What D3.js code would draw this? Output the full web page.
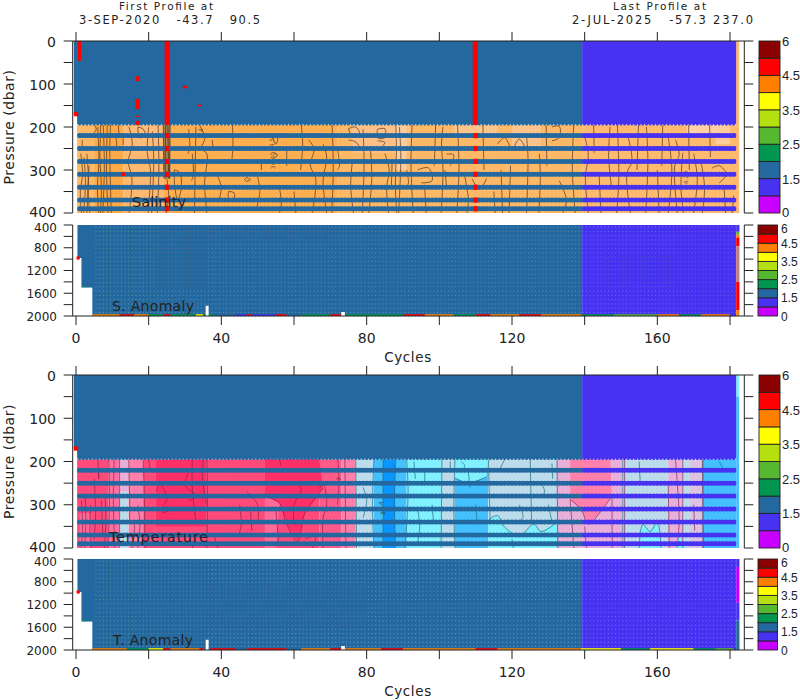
<!DOCTYPE html>
<html><head><meta charset="utf-8">
<script src="https://cdn.jsdelivr.net/npm/d3@7"></script>
<style>html,body{margin:0;padding:0;background:#fff;overflow:hidden}svg{display:block}text{font-family:"DejaVu Sans",sans-serif;fill:#222;white-space:pre}</style>
</head><body><svg id="c" width="800" height="700"></svg>
<script>
// ---------- data (cycle / dbar) ----------
const flagColors = ["#c800ff","#4632f0","#2468a0","#009650","#55b830","#b4e010","#ffff00","#ff8000","#ff0000","#8b0000"];
const flagTicks = ["0","1.5","2.5","3.5","4.5","6"];
const flagTickSteps = [0,2,4,6,8,10];
const cycleTicks = [0,20,40,60,80,100,120,140,160,180];
const cycleLabels = [0,40,80,120,160];
const stripeLevels = [220,250,280,310,340,370,390];
const gridLevels = [400,475,550,625,700,775,850,925,1000,1075,1150,1225,1300,1375,1450,1525,1600,1675,1750,1825,1900,1975];
const flagBreakCycle = 139.3, lastCycle = 181.7, edgeCycle = 182.6;
const shallowStep = [[-0.6,0,170],[0.3,170,194]];
const deepSteps = [[0.4,400,980],[1.5,400,1500],[4.5,400,2000]];
const whiteGaps = [[35.7,36.5,1820,2000],[73,74,1930,2000]];

// [cycle0, cycle1, p0, p1, colour]
const salZones = [
 [0.3,5,195,400,"#ffb866"],[5,13,195,400,"#ffaa46"],[13,24,195,400,"#ffb870"],[13,24,195,260,"#ffbc78"],
 [24,72,195,400,"#ffaf50"],[72,139.3,195,400,"#ffb865"],[139.3,182.6,195,400,"#ffba6e"],
 [24,26,195,320,"#a8804a"],[76,92,195,260,"#ffc088"],[88,91,195,300,"#ffcc9c"],[104,116,195,225,"#ffc48a"],[120,128,195,250,"#ffc48a"],
 [168,178,195,215,"#ffd0a4"],[176,180,195,240,"#ffcc9c"],[181.7,182.6,0,195,"#ffba6e"]
];
const tempZones = [
 [0.3,9,195,400,"#ff4a7a"],[1,4,320,400,"#ff6a98"],[9,12,195,400,"#ff70a0"],[12,14.5,195,270,"#e8b0d8"],[12,14.5,270,400,"#bcdcec"],
 [14.5,18.5,195,400,"#ff80aa"],[18.5,22,195,400,"#ff4a7a"],[22,36,195,400,"#ff3068"],[22,36,350,400,"#ff4a7a"],
 [36,52,195,400,"#ff4a7a"],[52,67,195,400,"#ff4a7a"],
 [67,73,195,400,"#ff5a88"],[73,77,195,400,"#ff80aa"],[77,82,195,400,"#bcdcec"],[82,84.5,195,400,"#44c0ff"],[84.5,88,195,400,"#0a96ff"],
 [88,91,195,400,"#44c0ff"],[91,100.7,195,400,"#80f0ff"],[100.7,104.3,195,400,"#bcdcec"],[104.3,113.5,195,400,"#44c0ff"],
 [113.5,132.4,195,400,"#bcdcec"],[132.4,136,195,400,"#e8b0d8"],
 [136,150.5,195,400,"#e8b0d8"],[150.5,163,195,400,"#bcdcec"],
 [163,167,195,400,"#e8b0d8"],[167,169,195,400,"#bcdcec"],[169,172.6,195,400,"#dcc4e0"],[172.6,181.7,195,400,"#44c0ff"],
 [181.7,182.6,50,400,"#44c0ff"],[181.7,182.6,0,50,"#80f0ff"]
];
// filled contour areas: colour, then cycle, dbar pairs
const tempAreas = [
 ["#ff3068",52,195,67,195,68,262,63,320,61,385,58,345,56,296,52,280],
 ["#ff6a98",52,280,56,296,55,400,52,400],
 ["#80f0ff",104.3,195,113.5,195,113,235,108,250,104.3,238],
 ["#80f0ff",113.5,400,113.5,335,116,325,118,352,122,372,126,345,128,362,132.4,340,132.4,400],
 ["#ff80aa",136,195,147,195,147.5,280,144,320,141,345,139,310,136,288],
 ["#80f0ff",155,400,156,345,158,362,160,340,161,400],
 ["#80f0ff",165,400,166,370,168,400]
];
// contours: flat lists cycle, dbar, cycle, dbar ...
const salContours = [
 [1.7,230,1.7,246],[1.3,262,1.8,310,1.2,350,1.5,400],[2.2,270,2.6,330,2.1,400],[3,262,3.4,320,3,400],[3.6,290,3.3,350,3.8,400],
 [5,195,5.6,205,4.8,215],[6,200,6.3,280,5.9,340,6.2,400],[6.8,195,6.6,270,7,350,6.7,400],[7.5,195,7.8,290,7.4,400],[8.6,195,8.4,300,8.8,400],[9.5,195,9.3,250,9.7,400],
 [10.9,222,11.2,240,10.8,254],[11.6,195,11.9,220],[13,226,13,242],[14.6,200,15.5,240,14.4,280,15.4,320,14.6,400],[17,200,18.5,205,19,220,17.5,225,17,200],[20,200,19.6,260,20.5,300,19.8,400],[21,210,21.4,280,20.8,400],[22.6,195,22.8,300,22.4,400],
 [24,195,24.2,300],[24.7,195,24.5,320],[25.3,195,25.5,320],[25.9,195,25.7,320],[25,320,25.5,360,24.8,400],
 [27,300,28.5,305,29,340,28,370,27.2,340,27,300],[31,205,31.3,250,30.8,262],[32,262,32.3,310,31.8,325],[33,200,32.6,400],[34,196,35.5,225,34.5,250,36,262,35.4,330,36,400],[37.5,230,37.7,246],
 [39,315,40,340,39.2,375],[43,184,43.2,240,42.9,278],[42,350,43.5,353,43.5,365,42,365,42,350],[47,318,48,322,47,326,46.4,322,47,318],[50,316,50.6,350,49.8,385],[51,285,51,300],
 [54,222,55.5,226,55,240,54,222],[54.5,260,55.5,265,54.6,272],[56,340,56.5,380,56,400],[58,250,58,290],[60,350,60.5,400],[62,195,62.4,240,61.8,300],
 [64,230,65.5,250,64.5,290,66,320,65,400],[68,240,69,270,68,325,69,400],[70.5,195,70.8,300,70.4,400],[72,254,72.5,290,72,300],[75,204,77,200,78,215,76,222,75,204],[75,230,77,235,78,248,75.5,245],
 [76,285,75.6,340,76.4,400],[79,205,79.3,290,78.8,400],[81,246,81.4,320,80.6,400],[83,205,85,204,85,225,83,225,83,205],[83,232,85,236,84,248],[85,262,86.2,300,85.5,340,86,400],[87,280,86.8,340],
 [88,190,88.2,250,87.9,340,88.3,400],[89,200,89.4,270,88.8,400],[91,300,91.5,330,91,340],[92.5,195,92.2,290,92.8,400],[94,300,97,295,98,325,95,330],[96,345,96.4,400],[99,195,98.6,290],
 [101,200,100.6,240,101,300,100.5,400],[102,263,104,265,103,290],[101.5,300,102,340],[105,195,105.4,300,104.8,400],[107,315,108,370,107.6,400],[109,320,111,345,113,320],[112,195,112.3,300],[115,350,115.4,400],
 [116,240,118,225,120,250,122,228,124,255],[117,300,117.4,400],[119.6,290,119.2,400],[124,222,124.4,270,124,400],[127.5,262,127.8,315,127.4,400],[129.4,195,129.6,290],[131,200,133,198,133,225,131,232],[133,325,135,370,134,400],[137,195,136.6,300,137.4,400],
 [140,222,141,265,140.2,316,141,400],[142.5,195,142.6,260],[144,315,144.5,400],[147,200,146.6,270,147.4,340],[149,195,149.4,320,148.8,400],[152,224,153,280,151.6,308,152.6,400],[154.8,195,154.4,300],[157,200,157.4,280,156.8,400],[160,300,160.5,400],
 [161.5,195,161.2,290],[163,224,164,300,163,400],[165,230,166,265,164.8,290,165.5,400],[167,260,166.5,340,167.2,400],[168.6,195,168.8,300],[170,262,171,320,170,400],[172,280,173,340,172.4,400],[174.4,195,174.6,270],
 [175,296,177,290,179,310,177,330],[178.4,345,178.8,400],[181,360,180.6,400]
];
const tempContoursWarm = [
 [1.5,290,1.8,360,1.4,400],[2.5,280,2.7,340,2.4,400],[4,300,3.8,360,4.2,400],[5,240,5.4,320,5,380],[6,215,6.3,240,6,195],[7,290,7.4,370],[8,275,8.2,340,7.8,400],
 [9,195,9.2,300,8.8,400],[10.5,195,10.3,300,10.7,400],[12,195,12,400],[14.5,195,14.8,300,15,340,16,345,15.4,400],[18.5,195,18.8,280,19,400],[20,195,20.4,215,21,225],[17,300,17.6,345,17,400],
 [22,270,23,255,24,262,25,290,24,300],[24,305,26,310,24,318,24,305],[31,225,30,255,33,280,31,290],[32,195,32,260,33,340],[36,195,36.2,260,36,400],[33,370,32,400],[35,195,34.8,240,36,300],
 [55,310,55.8,390],[60,250,62,262,60,300,60,345],[63,380,66,372,65,400],[67,262,68,250,69,300,68,330,68,400],[56,195,56.4,210],[72,195,72.4,240,72,300],[45,300,45.5,345,44.8,370],[48,310,48.4,360],[47,270,50,300,50,340],[38,370,39,400],
 [74,195,74.3,400],[132.4,195,132.6,400],[136,288,137,400],[147.5,280,147.6,400],[165,195,165.5,250,166,340,165.4,400],[163,250,163.3,400],[167,195,167,400],[170,300,170.3,360],[172.4,195,172.6,400],[140,350,140.5,400],[151,195,151,400],
 [52,280,56,296,58,345,61,385,63,320,68,262],[136,288,139,310,141,345,144,320,147.5,280]
];
const tempContoursCool = [
 [77,195,77.2,400],[82,195,81.6,300,82,400],[84.5,195,84.5,400],[88,195,87.6,300,88,400],[84,300,85,310,84,320],[87,205,88,215,87,225],[91,195,91.4,270,90.6,400],
 [100.7,195,100.5,400],[104.3,195,104,300,104.3,400],[103,200,103,215],[106,200,107,210,106,225],[113.5,195,113.8,290,114,340],[118,195,116.5,220],[113.5,335,116,325,118,352,122,372,126,345,128,362,132.4,340],
 [122,300,123,330,121,340],[125,195,125.4,340],[128,250,129,270,128,280],[131,205,131.2,240],[150.5,195,150.5,400],[155,200,155.3,250],[155,400,156,345,158,362,160,340,161,400],
 [130,300,131,340],[172.6,195,172.6,400],[177,200,178,220,177,225],[94,310,94.6,350,94,390],[96,220,96,250],[120,380,120.4,400],[108,225,108.4,260],[104.3,238,108,250,113,235],[79,260,80,290,79,330],[93,200,93.4,240],[98,300,98.4,340],[110,300,110.5,345]
];
const salLabels = [[54.5,236,"34.50"],[54.8,278,"34.40"],[168.5,322,"34.20"],[35,214,"3.4"]];
const tempLabels = [[5,222,"9"],[73,240,"7"],[84.5,296,"4"],[85,320,"2"]];

const salFlags = [[0.5,1.4,0,46],[-0.6,0.6,165,175],[16.4,17.6,82,93],[16.4,17.6,135,158],[16.4,17.6,174,177],[16.4,17.6,188,195],[24.4,25.8,0,195],[29.4,30.6,104,110],[33.4,34.6,148,152],[109.2,110.6,0,195]];
const salSpots = [[13,310],[17,190]];
const flaggedCycles = [25,110];
const tempFlags = [[-0.6,0.6,165,175]];

const strip1 = [[4.5,12,7],[12,16,8],[16,20,7],[20,24,3],[24,26,8],[26,33,3],[33,35,6],[35,38,3],[38,44,2],[44,47,1],[47,48.5,8],[48.5,55,1],[55,58,8],[58,62,2],[62,70,3],[70,73,8],[74,90,3],[90,96,8],[96,104,7],[104,110,3],[110,114,8],[114,122,7],[122,128,8],[128,139,7],[139,148,3],[148,160,4],[160,166,7],[166,172,3],[172,180,7]];
const strip2 = [[4.5,14,7],[14,20,3],[20,24,6],[24,26,8],[26,34,7],[34,35,8],[37,44,8],[44,47,2],[47,52,8],[52,58,8],[58,62,2],[62,70,7],[70,74,8],[74,84,7],[84,90,8],[90,110,7],[110,116,8],[116,139,7],[139,150,6],[150,158,3],[158,170,6],[170,176,3],[176,181,4]];
const tempEdge = [[400,540,1],[540,1170,0],[1170,1480,1],[1480,2000,2]];
const salEdgeClean = [[400,520,1],[520,570,4],[570,620,7],[620,770,8],[770,1400,"#c08080"],[1400,1900,8],[1900,2000,7]];
const salDotZones = [[5,22,400,900,"#7fd08a"],[22,36,400,1500,"#b87878"],[5,22,900,2000,"#a0d090"],[22,36,1500,2000,"#a8b8c8"],[36,70,400,700,"#b08088"],[36,139,700,2000,"#8fb8d8"],[70,139,400,700,"#90a8c8"],[139,145,400,2000,"#9aa0ff"],[145,165,400,900,"#9aa0ff"],[145,165,900,1400,"#70b888"],[145,165,1400,2000,"#9aa0ff"],[165,182,400,2000,"#a080e0"]];
const tempDotZones = [[5,20,400,1000,"#70d088"],[5,20,1000,2000,"#a0c8a0"],[20,36,400,2000,"#a0b8b8"],[36,139,400,800,"#b0c8e8"],[36,80,800,1600,"#b09aa8"],[80,139,800,1600,"#b0c8e8"],[36,139,1600,2000,"#b0c8e8"],[139,182,400,2000,"#a8acff"]];

// ---------- drawing ----------
const svg = d3.select("#c");
const x = d3.scaleLinear().domain([0,180]).range([76,730]);
const yS1 = d3.scaleLinear().domain([0,400]).range([41,213]);
const yS2 = d3.scaleLinear().domain([400,2000]).range([225,316]);
const yT1 = d3.scaleLinear().domain([0,400]).range([375,548]);
const yT2 = d3.scaleLinear().domain([400,2000]).range([559,650]);
const BLUE = flagColors[2], INDIGO = flagColors[1], RED = flagColors[8];
function rects(g,y,data,col){
  g.selectAll(null).data(data).join("rect")
   .attr("x",d=>x(d[0])).attr("width",d=>x(d[1])-x(d[0]))
   .attr("y",d=>y(d[2])).attr("height",d=>y(d[3])-y(d[2]))
   .attr("fill",col);
}
const pairs = a => d3.range(0,a.length-1,2).map(i=>[a[i],a[i+1]]);
function contours(g,y,list,col,op){
  const gen = d3.line().x(d=>x(d[0])).y(d=>y(d[1])).curve(d3.curveCatmullRom);
  g.selectAll(null).data(list.map(pairs)).join("path")
   .attr("d",gen).attr("fill","none").attr("stroke",col).attr("stroke-width",0.9).attr("stroke-opacity",op);
}
function axes(y,ys2){
  const g = svg.append("g").attr("stroke","#222").attr("stroke-width",1).attr("fill","none");
  g.append("line").attr("x1",72.7).attr("x2",744.3).attr("y1",y(0)).attr("y2",y(0));
  cycleTicks.forEach(t=>g.append("line").attr("x1",x(t)).attr("x2",x(t)).attr("y1",y(0)-9).attr("y2",y(0)));
  [72.7,744.3].forEach((ax,i)=>{
    g.append("line").attr("x1",ax).attr("x2",ax).attr("y1",y(0)).attr("y2",y(400));
    d3.range(0,401,50).forEach(p=>g.append("line").attr("x1",ax).attr("x2",ax+(i?9:-9)).attr("y1",y(p)).attr("y2",y(p)));
    g.append("line").attr("x1",ax).attr("x2",ax).attr("y1",ys2(400)).attr("y2",ys2(2000));
    d3.range(400,2001,200).forEach(p=>g.append("line").attr("x1",ax).attr("x2",ax+(i?9:-9)).attr("y1",ys2(p)).attr("y2",ys2(p)));
  });
  g.append("line").attr("x1",72.7).attr("x2",744.3).attr("y1",ys2(2000)).attr("y2",ys2(2000));
  cycleTicks.forEach(t=>g.append("line").attr("x1",x(t)).attr("x2",x(t)).attr("y1",ys2(2000)).attr("y2",ys2(2000)+9));
  const t = svg.append("g");
  d3.range(0,401,100).forEach(p=>t.append("text").attr("x",56).attr("y",y(p)+(p===400?4:5.5)).attr("text-anchor","end").attr("font-size",14).text(p));
  d3.range(400,2001,400).forEach(p=>t.append("text").attr("x",57).attr("y",ys2(p)+(p===400?7:4.5)).attr("text-anchor","end").attr("font-size",12).text(p));
  cycleLabels.forEach(c=>t.append("text").attr("x",x(c)).attr("y",ys2(2000)+27).attr("text-anchor","middle").attr("font-size",14).text(c));
  t.append("text").attr("x",408).attr("y",ys2(2000)+46).attr("text-anchor","middle").attr("font-size",13.5).attr("letter-spacing",0.6).text("Cycles");
  t.append("text").attr("transform",`translate(14,${(y(0)+y(400))/2}) rotate(-90)`).attr("text-anchor","middle").attr("font-size",14).attr("letter-spacing",0.5).text("Pressure (dbar)");
}
function colorbar(x0,x1,y0,y1,fs,lx,clampTop,clampBottom){
  const b = d3.scaleLinear().domain([0,10]).range([y1,y0]);
  const g = svg.append("g");
  g.selectAll(null).data(flagColors).join("rect").attr("x",x0).attr("width",x1-x0)
   .attr("y",(d,i)=>b(i+1)).attr("height",(d,i)=>b(i)-b(i+1)).attr("fill",d=>d).attr("stroke","#222").attr("stroke-width",0.9);
  g.selectAll(null).data(flagTicks).join("text").attr("x",lx)
   .attr("y",(d,i)=>b(flagTickSteps[i])+fs*0.38+(i===0?clampBottom:(i===5?clampTop:0)))
   .attr("font-size",fs).style("font-family","'Liberation Sans',sans-serif").text(d=>d);
}
let clipId = 0;
function shallow(y,zones,areas,warm,cool,col,flags,spots,flagged,labels){
  const id = "clip"+(++clipId);
  svg.append("clipPath").attr("id",id).append("rect").attr("x",x(-1)).attr("width",x(edgeCycle)-x(-1)).attr("y",y(0)).attr("height",y(400)-y(0));
  const g = svg.append("g");
  const inner = g.append("g").attr("clip-path",`url(#${id})`);
  rects(inner,y,zones,d=>d[4]);
  const poly = d3.line().x(d=>x(d[0])).y(d=>y(d[1])).curve(d3.curveLinearClosed);
  inner.selectAll(null).data(areas).join("path").attr("d",d=>poly(pairs(d.slice(1)))).attr("fill",d=>d[0]);
  contours(inner,y,warm,col,0.72);
  if(cool.length) contours(inner,y,cool,"#23707f",0.8);
  g.selectAll(null).data(labels).join("text").attr("x",d=>x(d[0])).attr("y",d=>y(d[1])).attr("font-size",6).attr("text-anchor","middle")
   .attr("transform",d=>`rotate(-90,${x(d[0])},${y(d[1])})`).attr("fill-opacity",0.7).text(d=>d[2]);
  rects(g,y,[[0.3,flagBreakCycle,0,193]],BLUE);
  rects(g,y,[[flagBreakCycle,lastCycle,0,193]],INDIGO);
  rects(g,y,[[shallowStep[0][0],0.4,shallowStep[0][1],shallowStep[0][2]]],BLUE);
  const cyc = d3.range(1,182);
  const rows = [193].concat(stripeLevels);
  stripeLevels.forEach(p=>{
    g.append("rect").attr("x",x(0.5)).attr("width",x(flagBreakCycle)-x(0.5)).attr("y",y(p)-2).attr("height",4).attr("fill",BLUE);
    g.append("rect").attr("x",x(flagBreakCycle)).attr("width",x(lastCycle)-x(flagBreakCycle)).attr("y",y(p)-2).attr("height",4).attr("fill",INDIGO);
  });
  rows.forEach((p,r)=>{
    g.selectAll(null).data(cyc).join("circle").attr("cx",d=>x(d)).attr("cy",y(p)).attr("r",r===0?1.6:2.5)
     .attr("fill",d=>d<flagBreakCycle?BLUE:INDIGO);
  });
  flagged.forEach(c=>stripeLevels.forEach(p=>g.append("rect").attr("x",x(c)-2).attr("width",4).attr("y",y(p)-2.6).attr("height",5.2).attr("fill",RED)));
  rects(g,y,flags,RED);
  g.selectAll(null).data(spots).join("rect").attr("x",d=>x(d[0])-1.8).attr("y",d=>y(d[1])-1.8).attr("width",3.6).attr("height",3.6).attr("fill",RED);
}
function deep(y,dotZones,strip,edge){
  const g = svg.append("g");
  rects(g,y,deepSteps.map(s=>[s[0],flagBreakCycle,s[1],s[2]]),BLUE);
  rects(g,y,[[flagBreakCycle,lastCycle,400,2000]],INDIGO);
  g.selectAll(null).data(edge).join("rect").attr("x",x(lastCycle)).attr("width",x(edgeCycle)-x(lastCycle))
   .attr("y",d=>y(d[0])).attr("height",d=>y(d[1])-y(d[0]))
   .attr("fill",d=>typeof d[2]==="number"?flagColors[d[2]]:d[2]);
  const pts=[];
  dotZones.forEach(z=>{
    gridLevels.filter(p=>p>=z[2]&&p<z[3]).forEach(p=>d3.range(Math.ceil(z[0]),Math.floor(z[1])).forEach(c=>pts.push([c+0.5,p,z[4]])));
  });
  g.selectAll(null).data(pts).join("circle").attr("cx",d=>x(d[0])).attr("cy",d=>y(d[1])+2.1).attr("r",0.55)
   .attr("fill",d=>d[2]).attr("fill-opacity",0.55);
  g.selectAll(null).data(strip).join("rect").attr("x",d=>x(d[0])).attr("width",d=>x(d[1])-x(d[0]))
   .attr("y",y(2000)-1.8).attr("height",1.8).attr("fill",d=>flagColors[d[2]]);
  rects(g,y,whiteGaps,"#fff");
  g.selectAll(null).data([[0.6,980,8],[2.2,1500,3]]).join("rect").attr("x",d=>x(d[0])-1.6).attr("y",d=>y(d[1])-1.6).attr("width",3.2).attr("height",d=>d[2]===8?3.2:1.2).attr("fill",d=>flagColors[d[2]]);
}
shallow(yS1,salZones,[],salContours,[], "#3a2a1a",salFlags,salSpots,flaggedCycles,salLabels);
rects(svg.append("g"),yS2,[[109.2,110.6,400,440]],RED);
deep(yS2,salDotZones,strip1,salEdgeClean);
shallow(yT1,tempZones,tempAreas,tempContoursWarm,tempContoursCool,"#7a2048",tempFlags,[],[],tempLabels);
deep(yT2,tempDotZones,strip2,tempEdge);
axes(yS1,yS2);
axes(yT1,yT2);
colorbar(759,780,41,213,13,782,0,-1);
colorbar(758,777.5,225,316,12,781,3,0);
colorbar(759,780,375,548,13,782,0,-1);
colorbar(758,777.5,559,650,12,781,3,0);
const T = (s,xx,yy,fs,len)=>svg.append("text").attr("x",xx).attr("y",yy).attr("font-size",fs).attr("textLength",len).attr("lengthAdjust","spacing").text(s);
T("First Profile at",119,10,10.5,94);
T("3-SEP-2020   -43.7   90.5",79,23.5,11.5,181);
T("Last Profile at",613,10,10.5,93);
T("2-JUL-2025   -57.3 237.0",572,23.5,11.5,181);
T("Salinity",132,207,14.5,54);
T("S. Anomaly",112,311,14,82);
T("Temperature",109,542,14.5,99);
T("T. Anomaly",113,645,14,80);
</script></body></html>
